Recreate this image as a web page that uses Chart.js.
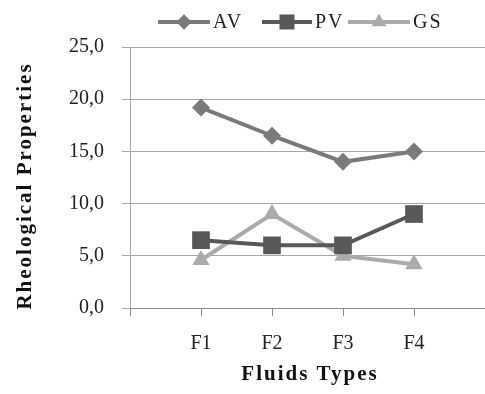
<!DOCTYPE html>
<html>
<head>
<meta charset="utf-8">
<script src="https://cdn.jsdelivr.net/npm/chart.js@4/dist/chart.umd.min.js"></script>
<style>
  html, body { margin: 0; padding: 0; background: #fff; }
  #wrap { width: 485px; height: 394px; }
</style>
</head>
<body>
<div id="wrap"><canvas id="rheoChart" width="485" height="394"></canvas></div>
<script>
const fluids = ["F1", "F2", "F3", "F4"];
const avValues = [19.2, 16.5, 14.0, 15.0];
const pvValues = [6.5, 6.0, 6.0, 9.0];
const gsValues = [4.6, 9.0, 5.0, 4.2];
const yTicks = [0, 5, 10, 15, 20, 25];
const xTitle = "Fluids Types";
const yTitle = "Rheological Properties";

const serif = "'Liberation Serif', 'DejaVu Serif', serif";

// x positions 1..4 for the fluids, axis runs 0..5
function toPoints(values) {
  return values.map((v, i) => ({ x: i + 1, y: v }));
}

const series = [
  { label: "AV", data: avValues, color: "#7a7a7a", style: "rectRot", radius: 9, legend: [158, 210] },
  { label: "PV", data: pvValues, color: "#585858", style: "rect", radius: 12.5, legend: [262, 312] },
  { label: "GS", data: gsValues, color: "#ababab", style: "triangle", radius: 10, legend: [348, 410] }
];

// legend (line + marker + label) and the spaced-out axis titles
const decorations = {
  id: "decorations",
  afterDraw(chart) {
    const ctx = chart.ctx;
    ctx.save();
    ctx.textBaseline = "middle";
    ctx.letterSpacing = "2px";
    ctx.font = "20px " + serif;
    series.forEach((s) => {
      const [x0, x1] = s.legend;
      const y = 22;
      ctx.strokeStyle = s.color;
      ctx.lineWidth = 4;
      ctx.beginPath();
      ctx.moveTo(x0, y);
      ctx.lineTo(x1, y);
      ctx.stroke();
      ctx.fillStyle = s.color;
      Chart.helpers.drawPoint(ctx, { pointStyle: s.style, radius: s.radius * 0.85, rotation: 0, borderWidth: 0 }, (x0 + x1) / 2, y);
      ctx.fillStyle = "#222";
      ctx.textAlign = "left";
      ctx.fillText(s.label, x1 + 3, y + 1);
    });

    ctx.fillStyle = "#111";
    ctx.font = "bold 21px " + serif;
    ctx.textAlign = "center";
    ctx.fillText(xTitle, 310, 375);

    ctx.translate(26, 186);
    ctx.rotate(-Math.PI / 2);
    ctx.fillText(yTitle, 0, 0);
    ctx.restore();
  }
};

new Chart(document.getElementById("rheoChart"), {
  type: "line",
  data: {
    datasets: series.map((s) => ({
      label: s.label,
      data: toPoints(s.data),
      borderColor: s.color,
      backgroundColor: s.color,
      borderWidth: 4,
      pointStyle: s.style,
      pointRadius: s.radius,
      pointBorderWidth: 0,
      tension: 0
    }))
  },
  options: {
    responsive: false,
    animation: false,
    layout: { autoPadding: false, padding: { top: 47, left: 0, right: 0, bottom: 0 } },
    plugins: {
      legend: { display: false },
      tooltip: { enabled: false }
    },
    scales: {
      x: {
        type: "linear",
        min: 0,
        max: 5,
        afterBuildTicks(scale) {
          scale.ticks = [0, 1, 2, 3, 4, 5].map((v) => ({ value: v }));
        },
        afterFit(scale) {
          scale.height = 86;
          scale.paddingLeft = 0;
          scale.paddingRight = 0;
        },
        grid: {
          drawOnChartArea: false,
          drawTicks: true,
          tickLength: 8,
          color: "#8c8c8c"
        },
        border: { color: "#8c8c8c", width: 1 },
        ticks: {
          font: { family: serif, size: 20 },
          color: "#222",
          padding: 16,
          maxRotation: 0,
          callback: (v) => fluids[v - 1] || ""
        }
      },
      y: {
        min: 0,
        max: 25,
        afterBuildTicks(scale) {
          scale.ticks = yTicks.map((v) => ({ value: v }));
        },
        afterFit(scale) { scale.width = 130; },
        grid: {
          color: "#a8a8a8",
          lineWidth: 1,
          tickLength: 8
        },
        border: { color: "#a8a8a8", width: 1 },
        ticks: {
          font: { family: serif, size: 20 },
          color: "#222",
          padding: 18,
          callback: (v) => v.toFixed(1).replace(".", ",")
        }
      }
    }
  },
  plugins: [decorations]
});
</script>
</body>
</html>
